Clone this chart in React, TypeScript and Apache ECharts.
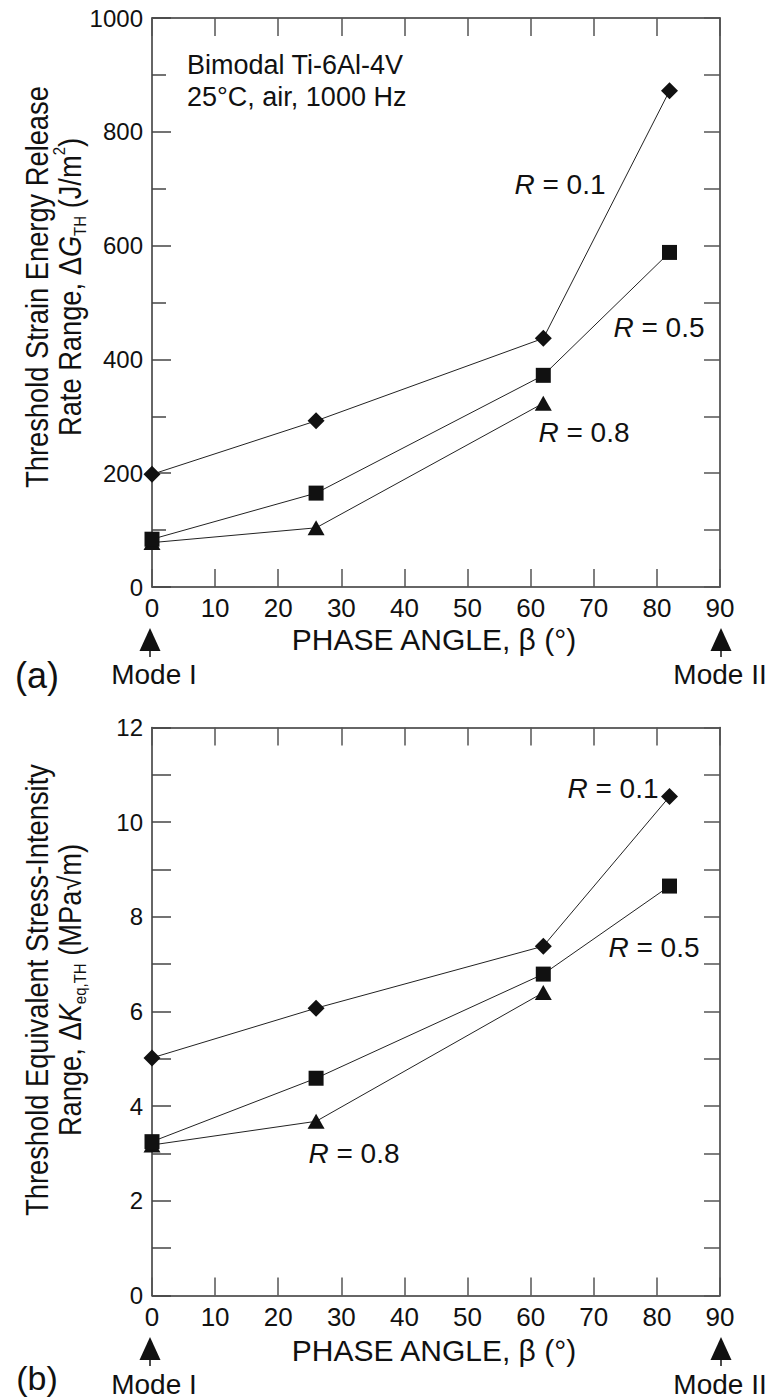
import React, { useEffect, useRef } from "react";
import * as echarts from "echarts";

// ---- data ----
const phaseAngles = [0, 26, 62, 82];
const phaseAnglesR08 = [0, 26, 62];

// (a) threshold strain energy release rate range, J/m^2
const gR01 = [198, 292, 437, 872];
const gR05 = [84, 165, 372, 588];
const gR08 = [78, 104, 323];

// (b) threshold equivalent stress-intensity range, MPa√m
const kR01 = [5.02, 6.07, 7.38, 10.54];
const kR05 = [3.25, 4.59, 6.79, 8.65];
const kR08 = [3.18, 3.68, 6.4];

const seriesLabels = ["R = 0.1", "R = 0.5", "R = 0.8"];

const FONT = '"Liberation Sans", Arial, Helvetica, sans-serif';
const INK = "#111";
const AXC = "#333";

const pairs = (xs: number[], ys: number[]) => xs.map((x, i) => [x, ys[i]]);
const plain = (v: number) => String(v);

function xAxesFor(gridIndex: number) {
  const line = { show: true, onZero: false, lineStyle: { color: AXC, width: 1.5 } };
  return [
    {
      type: "value",
      gridIndex,
      position: "bottom",
      min: 0,
      max: 90,
      interval: 10,
      axisLine: line,
      axisTick: { show: true, inside: true, length: 18, lineStyle: { color: "#555", width: 1.5 } },
      axisLabel: { show: true, margin: 8, color: INK, fontSize: 26, fontFamily: FONT, formatter: plain },
      splitLine: { show: false },
    },
    {
      type: "value",
      gridIndex,
      position: "top",
      min: 0,
      max: 90,
      interval: 10,
      axisLine: line,
      axisTick: { show: true, inside: true, length: 18, lineStyle: { color: "#555", width: 1.5 } },
      axisLabel: { show: false },
      splitLine: { show: false },
    },
  ];
}

function yAxesFor(
  gridIndex: number,
  max: number,
  labelInterval: number,
  tickInterval: number,
  minorLen: number
) {
  const line = { show: true, onZero: false, lineStyle: { color: AXC, width: 1.5 } };
  return [
    {
      type: "value",
      gridIndex,
      position: "left",
      min: 0,
      max,
      interval: labelInterval,
      axisLine: line,
      axisTick: { show: true, inside: true, length: 19, lineStyle: { color: "#444", width: 1.5 } },
      minorTick: { show: true, splitNumber: labelInterval / tickInterval, length: minorLen, lineStyle: { color: "#444", width: 1.5 } },
      axisLabel: { show: true, margin: 9, color: INK, fontSize: 24, fontFamily: FONT, formatter: plain },
      splitLine: { show: false },
      minorSplitLine: { show: false },
    },
    {
      type: "value",
      gridIndex,
      position: "right",
      min: 0,
      max,
      interval: tickInterval,
      axisLine: line,
      axisTick: { show: true, inside: true, length: 16, lineStyle: { color: "#555", width: 1.5 } },
      axisLabel: { show: false },
      splitLine: { show: false },
    },
  ];
}

function lineSeries(
  name: string,
  data: number[][],
  symbol: string,
  symbolSize: number | number[],
  axisIndex: number
) {
  return {
    name,
    type: "line",
    xAxisIndex: axisIndex,
    yAxisIndex: axisIndex,
    data,
    symbol,
    symbolSize,
    showAllSymbol: true,
    lineStyle: { color: "#222", width: 1 },
    itemStyle: { color: INK, borderWidth: 0 },
    emphasis: { disabled: true },
    z: 3,
  };
}

function arrow(x: number, apex: number) {
  return [
    {
      type: "polygon",
      shape: { points: [[x - 10.5, apex + 23], [x, apex], [x + 10.5, apex + 23]] },
      style: { fill: INK },
    },
    {
      type: "line",
      shape: { x1: x, y1: apex + 22, x2: x, y2: apex + 29 },
      style: { stroke: INK, lineWidth: 1.5 },
    },
  ];
}

function txt(x: number, y: number, text: string, fontSize: number, align = "center") {
  return {
    type: "text",
    x,
    y,
    style: {
      text,
      fontSize,
      fontFamily: FONT,
      fill: INK,
      align,
      verticalAlign: "middle",
      rich: {
        i: { fontStyle: "italic", fontSize, fontFamily: FONT, fill: INK },
      },
    },
  };
}

function titleText(x: number, y: number, text: string) {
  const fs = 31;
  return {
    type: "text",
    x,
    y,
    rotation: Math.PI / 2,
    scaleX: 0.88,
    style: {
      text,
      fontSize: fs,
      fontFamily: FONT,
      fill: INK,
      align: "center",
      verticalAlign: "middle",
      lineHeight: 38,
      rich: {
        n: { fontSize: fs, fontFamily: FONT, fill: INK, lineHeight: 38 },
        i: { fontSize: fs, fontFamily: FONT, fill: INK, fontStyle: "italic", lineHeight: 38 },
        sub: { fontSize: 17, fontFamily: FONT, fill: INK, verticalAlign: "bottom", lineHeight: 17 },
        sup: { fontSize: 17, fontFamily: FONT, fill: INK, verticalAlign: "top", lineHeight: 17 },
      },
    },
  };
}

export default function App() {
  const ref = useRef<HTMLDivElement>(null);

  useEffect(() => {
    if (!ref.current) return;
    const chart = echarts.init(ref.current, undefined, { renderer: "svg" });

    const option: any = {
      animation: false,
      backgroundColor: "#fff",
      grid: [
        { left: 152, top: 18, width: 568, height: 569 },
        { left: 152, top: 727.5, width: 568, height: 568 },
      ],
      xAxis: [...xAxesFor(0), ...xAxesFor(1)],
      yAxis: [...yAxesFor(0, 1000, 200, 100, 14), ...yAxesFor(1, 12, 2, 1, 19)],
      series: [
        lineSeries(seriesLabels[2], pairs(phaseAnglesR08, gR08), "triangle", [17, 15], 0),
        lineSeries(seriesLabels[1], pairs(phaseAngles, gR05), "rect", 15, 0),
        lineSeries(seriesLabels[0], pairs(phaseAngles, gR01), "diamond", 17, 0),
        lineSeries(seriesLabels[2], pairs(phaseAnglesR08, kR08), "triangle", [17, 15], 2),
        lineSeries(seriesLabels[1], pairs(phaseAngles, kR05), "rect", 15, 2),
        lineSeries(seriesLabels[0], pairs(phaseAngles, kR01), "diamond", 17, 2),
      ],
      graphic: [
        // panel (a) annotations
        txt(187, 65, "Bimodal Ti-6Al-4V", 27, "left"),
        txt(187, 97, "25°C, air, 1000 Hz", 27, "left"),
        txt(560, 184, "{i|R} = 0.1", 28),
        txt(659, 327, "{i|R} = 0.5", 28),
        txt(584, 432, "{i|R} = 0.8", 28),
        txt(434, 639, "PHASE ANGLE, β (°)", 30),
        ...arrow(150, 628),
        ...arrow(721, 628),
        txt(154, 674, "Mode I", 28),
        txt(720, 674, "Mode II", 28),
        txt(37, 675, "(a)", 36),
        titleText(37, 287, "Threshold Strain Energy Release"),
        titleText(70, 287, "{n|Rate Range, Δ}{i|G}{sub|TH}{n| (J/m}{sup|2}{n|)}"),
        // panel (b) annotations
        txt(613, 788, "{i|R} = 0.1", 28),
        txt(654, 947, "{i|R} = 0.5", 28),
        txt(354, 1153, "{i|R} = 0.8", 28),
        txt(434, 1350, "PHASE ANGLE, β (°)", 30),
        ...arrow(150, 1337),
        ...arrow(721, 1337),
        txt(154, 1384, "Mode I", 28),
        txt(720, 1384, "Mode II", 28),
        txt(37, 1378, "(b)", 34),
        titleText(37, 990, "Threshold Equivalent Stress-Intensity"),
        titleText(70, 990, "{n|Range, Δ}{i|K}{sub|eq,TH}{n| (MPa√m)}"),
      ],
    };

    chart.setOption(option);
    return () => chart.dispose();
  }, []);

  return (
    <div
      ref={ref}
      style={{ position: "absolute", left: 0, top: 0, width: 771, height: 1399, background: "#fff" }}
    />
  );
}
